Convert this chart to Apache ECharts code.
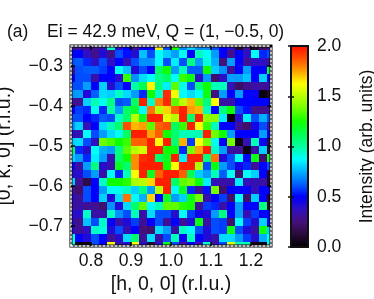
<!DOCTYPE html>
<html><head><meta charset="utf-8">
<style>html,body{margin:0;padding:0;background:#fff}#c{width:374px;height:299px}</style>
<script src="https://cdn.jsdelivr.net/npm/echarts@6/dist/echarts.min.js"></script>
</head><body><div id="c"></div>
<script>
const xCenters = [0.75,0.77,0.79,0.81,0.83,0.85,0.87,0.89,0.91,0.93,0.95,0.97,0.99,1.01,1.03,1.05,1.07,1.09,1.11,1.13,1.15,1.17,1.19,1.21,1.23,1.25];
const yCenters = [-0.25,-0.27,-0.29,-0.31,-0.33,-0.35,-0.37,-0.39,-0.41,-0.43,-0.45,-0.47,-0.49,-0.51,-0.53,-0.55,-0.57,-0.59,-0.61,-0.63,-0.65,-0.67,-0.69,-0.71,-0.73,-0.75];
const xTicks = [0.8,0.9,1.0,1.1,1.2];
const yTicks = [-0.7,-0.6,-0.5,-0.4,-0.3];
const barTicks = [0,0.5,1.0,1.5,2.0];
// rows from top (k = -0.25) to bottom (k = -0.75)
const intensity = [
[.30,.30,.30,.30,.35,.97,.40,.50,.30,.50,.50,1.65,.60,1.25,.70,.80,.70,.70,.60,.50,.40,.10,.30,.10,.20,.30],
[.50,.50,.38,.28,.42,.28,.60,.52,.40,.78,.60,.88,.80,.72,.88,.50,.97,.88,.72,.50,.28,.50,.38,.88,.55,.60],
[.60,.62,.55,.38,.60,.38,.50,.36,.60,.70,.70,.88,.60,.85,.60,1.05,.72,.92,.75,.25,.72,.50,.30,.38,.38,.30],
[.30,.60,.62,.62,.58,.50,.88,.78,.42,.60,.50,1.10,1.25,.72,.97,.62,.62,1.25,.80,.70,.30,.50,.72,.50,.50,1.15],
[.50,.60,.60,.33,.50,.50,.40,1.30,.70,.82,.88,1.03,1.10,.88,1.30,1.22,.38,.72,.22,.38,.72,.72,.78,.50,.80,.50],
[.60,.60,.72,.50,.80,.40,.60,.50,1.00,1.12,1.63,1.05,.85,1.35,.90,.60,1.05,1.25,.97,.97,.36,.20,.28,.33,.30,.35],
[.70,.72,.42,.62,.82,.80,.95,.82,.72,.55,1.25,.95,1.95,1.60,.88,.82,.88,1.22,.26,.72,.50,.72,.50,.48,.03,.10],
[.30,.30,.80,.97,.90,1.05,.60,.62,1.10,1.97,.95,1.80,1.95,1.35,1.50,1.72,1.35,1.05,1.62,.33,.33,.50,.50,.50,.50,.50],
[.50,.58,.55,.90,.55,1.00,.72,1.10,1.18,.88,1.82,1.50,1.68,1.85,1.97,1.75,1.72,.97,.50,1.05,1.25,.60,.52,.28,.28,.30],
[.60,.60,.50,.55,.62,.60,.95,1.08,1.50,1.20,1.97,1.97,1.58,1.50,1.97,1.08,1.97,1.42,1.42,.85,.02,.40,.85,.60,.75,.60],
[.70,.80,.36,.50,.82,.97,1.08,1.88,1.72,1.75,1.35,1.85,1.88,1.10,1.30,1.97,1.62,1.30,.97,.50,.50,.30,.22,.45,.60,.30],
[.40,.35,.88,.60,.72,.82,.90,1.10,1.97,1.97,1.75,1.85,1.25,1.08,.97,.97,.97,1.97,1.37,1.25,.72,.50,.50,.50,.72,.50],
[.80,.82,.60,.38,1.37,1.32,1.25,1.30,1.85,1.85,1.97,1.63,1.97,1.08,1.73,.58,1.62,1.38,.90,.50,1.38,.03,.35,.97,.48,.10],
[1.10,.55,.40,.88,.75,.72,1.05,1.35,1.50,1.55,1.97,1.97,1.25,1.22,.55,1.38,1.75,1.97,.95,.72,.32,.30,.03,.33,.80,.10],
[.80,.72,.55,.85,.72,.35,1.08,1.25,1.78,1.95,1.97,1.08,1.20,1.97,.85,1.97,1.97,1.05,1.82,.42,.60,.88,.50,1.22,.22,1.20],
[.50,.32,.72,1.05,.40,.33,1.20,1.08,1.78,1.97,1.97,1.97,1.25,1.62,1.97,1.97,1.48,.60,1.22,.72,.60,.45,.55,.30,.50,.60],
[.40,.40,.60,.72,.33,.88,.55,.97,1.62,1.97,1.20,1.85,1.97,1.97,1.85,1.12,.80,.72,.97,.62,.88,.22,.88,.80,.50,.10],
[.80,.30,.15,.50,.95,1.25,1.25,1.28,1.48,1.50,1.68,1.97,1.97,1.08,1.35,1.38,1.22,.85,.36,.33,.33,.85,.36,.35,.33,.10],
[.30,.22,.60,.50,.72,.88,.90,.95,.80,1.05,.72,1.50,1.97,.88,1.20,.55,.30,.52,1.38,.22,.50,.50,.48,.36,.50,.50],
[.40,.30,.60,.50,.80,.42,.82,1.82,.88,.75,1.68,.50,1.18,.72,.80,1.22,1.38,.33,.50,.58,.22,.88,.22,.80,.50,.10],
[.30,.33,.30,.30,.22,.70,.42,.82,1.08,1.35,.88,.97,1.35,1.35,1.28,1.25,.30,.58,.55,.33,.50,.72,.50,.50,1.05,.10],
[.40,.40,.95,.33,.33,.95,.70,.60,.97,.33,.82,.60,.60,.40,.88,.58,.45,.42,.72,1.05,.50,.72,.35,.58,.50,.50],
[.40,.28,.78,.60,.95,.50,.33,.42,.58,.30,.50,.60,.30,.50,.30,.42,1.22,.33,.60,.58,.22,.88,.58,.40,.80,.50],
[.40,.30,.38,.95,.92,.42,.60,.35,.50,.25,.22,.82,.72,.32,.95,.88,.60,.42,.60,.58,1.22,.60,.42,.33,1.22,.80],
[.90,.50,.42,.60,.50,.30,.40,.82,1.08,.30,.82,.33,.60,.97,.48,.97,.50,.42,.33,.82,.82,.72,.58,.40,.75,.90],
[.90,.03,.03,.60,.50,1.62,.35,.40,1.62,.40,.10,.40,1.20,.60,.30,.50,.35,.95,.35,.60,1.58,.97,.97,.05,.05,.90]
];
const colormap = ['#000000','#2a0a3a','#45107a','#3010c0','#0000ff','#0060ff','#00b0ff','#00ffff','#00ffa0','#00ff50','#10ff00','#70ff00','#b8ff00','#ffff00','#ffa000','#ff5000','#ff1000'];

const cells = [];
intensity.forEach((row, j) => row.forEach((v, i) => cells.push([xCenters[i], yCenters[j], v])));

const FONT = '"Liberation Sans", Arial, sans-serif';
const xStep = 0.02, yStep = 0.02;
const minus = s => s.replace('-', '\u2212');
const frameLine = {show:true, onZero:false, lineStyle:{color:'#fff', width:1.5, type:[2,2]}};
const txt = {color:'#111', fontFamily:FONT, fontSize:17.5};
const nameTxt = {color:'#111', fontFamily:FONT, fontSize:19.5};

const chart = echarts.init(document.getElementById('c'), null, {renderer:'canvas'});
chart.setOption({
  animation:false,
  backgroundColor:'#fff',
  title:[
    {text:'(a)', left:2, top:18, textStyle:{...txt, fontWeight:'normal'}},
    {text:'Ei = 42.9 meV, Q = (1, \u22120.5, 0)', left:42, top:18, textStyle:{...txt, fontWeight:'normal'}}
  ],
  grid:[
    {left:71, top:46, width:200, height:200, show:true, borderColor:'#000', borderWidth:3, backgroundColor:'transparent', z:5, outerBoundsMode:'none', containLabel:false},
    {left:291, top:46, width:17, height:201, show:true, borderColor:'#111', borderWidth:2, backgroundColor:'transparent', z:5, outerBoundsMode:'none', containLabel:false}
  ],
  xAxis:[
    {type:'value', gridIndex:0, min:0.75, max:1.25, position:'bottom', z:6, axisLine:frameLine,
     axisTick:{show:true, inside:true, length:4, customValues:xTicks, lineStyle:{color:'#000', width:1.5}},
     axisLabel:{...txt, margin:6, customValues:xTicks, formatter:v=>v.toFixed(1)},
     splitLine:{show:false}, name:'[h, 0, 0] (r.l.u.)', nameLocation:'middle', nameGap:25, nameTextStyle:nameTxt},
    {type:'value', gridIndex:0, min:0.75, max:1.25, position:'top', z:6, axisLine:frameLine,
     axisTick:{show:true, inside:true, length:4, customValues:xTicks, lineStyle:{color:'#000', width:1.5}},
     axisLabel:{show:false}, splitLine:{show:false}},
    {type:'value', gridIndex:1, min:0, max:1, show:false}
  ],
  yAxis:[
    {type:'value', gridIndex:0, min:-0.75, max:-0.25, position:'left', z:6, axisLine:frameLine,
     axisTick:{show:true, inside:true, length:4, customValues:yTicks, lineStyle:{color:'#000', width:1.5}},
     axisLabel:{...txt, margin:8, customValues:yTicks, formatter:v=>minus(v.toFixed(1))},
     splitLine:{show:false}, name:'[0, k, 0] (r.l.u.)', nameLocation:'middle', nameGap:56, nameRotate:90, nameTextStyle:nameTxt},
    {type:'value', gridIndex:0, min:-0.75, max:-0.25, position:'right', z:6, axisLine:frameLine,
     axisTick:{show:true, inside:true, length:4, customValues:yTicks, lineStyle:{color:'#000', width:1.5}},
     axisLabel:{show:false}, splitLine:{show:false}},
    {type:'value', gridIndex:1, min:0, max:2, position:'right', z:6, axisLine:{show:false},
     axisTick:{show:true, inside:true, length:3, customValues:barTicks, lineStyle:{color:'#111', width:1.5}},
     axisLabel:{...txt, margin:9, customValues:barTicks, formatter:v=>v.toFixed(1)},
     splitLine:{show:false}, name:'Intensity (arb. units)', nameLocation:'middle', nameGap:50, nameRotate:90, nameTextStyle:txt},
    {type:'value', gridIndex:1, min:0, max:2, position:'left', z:6, axisLine:{show:false},
     axisTick:{show:true, inside:true, length:3, customValues:barTicks, lineStyle:{color:'#111', width:1.5}},
     axisLabel:{show:false}, splitLine:{show:false}}
  ],
  visualMap:{
    type:'continuous', min:0, max:2, dimension:2, seriesIndex:0, calculable:false, realtime:false,
    orient:'vertical', left:291, top:46, itemWidth:17, itemHeight:201, text:['',''], padding:0, textGap:0,
    showLabel:false, z:1, inRange:{color:colormap}, hoverLink:false
  },
  series:[{
    type:'custom', coordinateSystem:'cartesian2d', xAxisIndex:0, yAxisIndex:0, data:cells,
    encode:{x:0, y:1}, z:2, silent:true, clip:true,
    renderItem:(params, api) => {
      const c = api.coord([api.value(0), api.value(1)]);
      const s = api.size([xStep, yStep]);
      const cs = params.coordSys;
      const shape = echarts.graphic.clipRectByRect(
        {x:c[0]-s[0]/2, y:c[1]-s[1]/2, width:s[0], height:s[1]},
        {x:cs.x, y:cs.y, width:cs.width, height:cs.height});
      return shape && {type:'rect', shape, style:{fill:api.visual('color')}};
    }
  }]
});
</script></body></html>
